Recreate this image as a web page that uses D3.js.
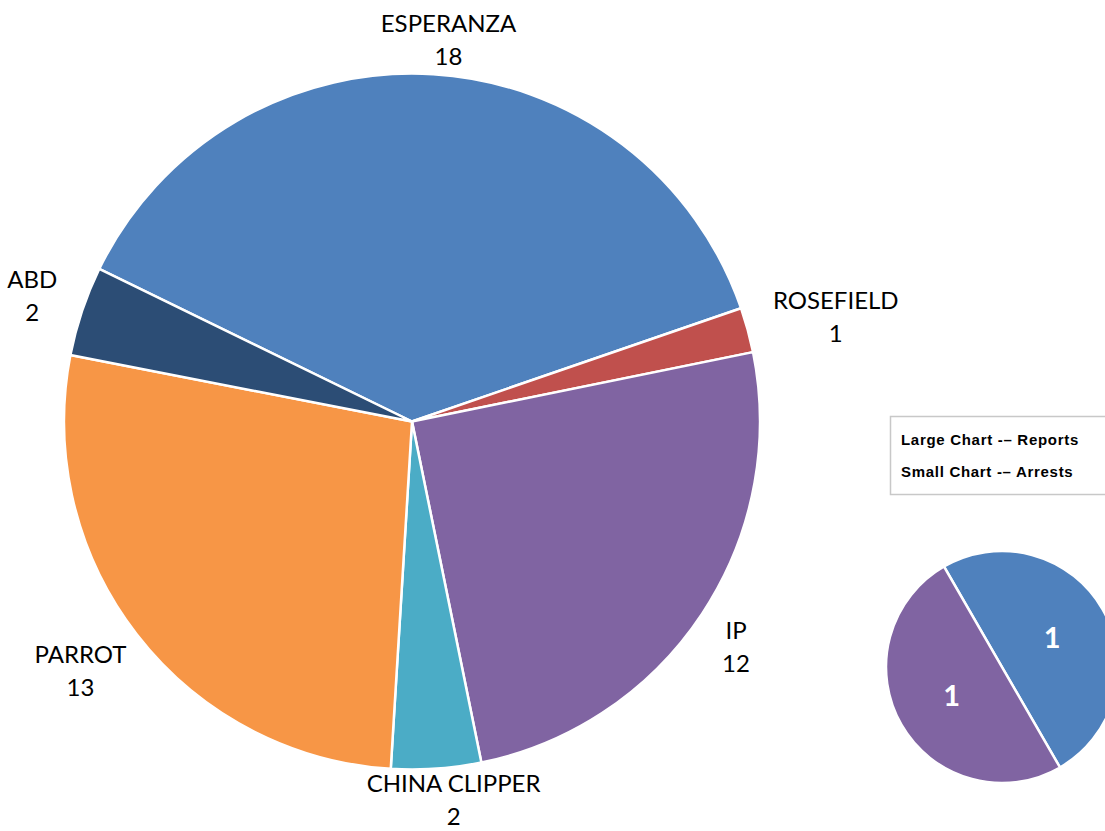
<!DOCTYPE html>
<html>
<head>
<meta charset="utf-8">
<script src="https://cdn.jsdelivr.net/npm/d3@7"></script>
<style>
  html, body { margin: 0; padding: 0; background: #fff; overflow: hidden; }
  svg { display: block; }
</style>
</head>
<body>
<svg id="chart" width="1105" height="831"></svg>
<script>
// Reports by vessel (large pie)
const reportCategories = ["ESPERANZA", "ROSEFIELD", "IP", "CHINA CLIPPER", "PARROT", "ABD"];
const reportValues = [18, 1, 12, 2, 13, 2];
const reportColors = ["#4F81BD", "#C0504D", "#8064A2", "#4BACC6", "#F79646", "#2C4D75"];

// Arrests (small pie)
const arrestCategories = ["ESPERANZA", "IP"];
const arrestValues = [1, 1];
const arrestColors = ["#4F81BD", "#8064A2"];

const legendLines = ["Large Chart -\u2013 Reports", "Small Chart -\u2013 Arrests"];

const W = 1105, H = 831;
const svg = d3.select("#chart");
const deg = Math.PI / 180;

// ---- Large pie ----
const big = { cx: 412, cy: 421.5, r: 348, start: -64 };
const bigPie = d3.pie().sort(null).value(d => d.value)
  .startAngle(big.start * deg).endAngle((big.start + 360) * deg);
const bigData = bigPie(reportCategories.map((c, i) => ({ name: c, value: reportValues[i], color: reportColors[i] })));
const bigArc = d3.arc().innerRadius(0).outerRadius(big.r);

const gBig = svg.append("g").attr("transform", `translate(${big.cx},${big.cy})`);
gBig.selectAll("path").data(bigData).join("path")
  .attr("d", bigArc)
  .attr("fill", d => d.data.color)
  .attr("stroke", "#fff")
  .attr("stroke-width", 2.5)
  .attr("stroke-linejoin", "round");

// Outside labels: the text block sits just beyond the rim along the slice's mid-angle,
// pushed a little further vertically for the diagonal positions
const labelFont = "Lato, 'Open Sans', sans-serif";
const lineGap = 33, blockH = 50, gapX = 28, gapY = 8;
const labels = gBig.selectAll("g.lbl").data(bigData).join("g").attr("class", "lbl");
labels.append("text").attr("class", "name").text(d => d.data.name);
labels.append("text").attr("class", "val").text(d => d.data.value);
labels.selectAll("text")
  .attr("text-anchor", "middle")
  .attr("font-family", labelFont)
  .attr("font-size", 24)
  .attr("fill", "#000");
labels.each(function(d) {
  const g = d3.select(this);
  const w = g.select("text.name").node().getComputedTextLength();
  const a = (d.startAngle + d.endAngle) / 2;
  const ux = Math.sin(a), uy = -Math.cos(a);
  const x = ux * (big.r + gapX) + ux * w / 2 + (1 - Math.abs(ux)) * 10;
  const diag = Math.abs(ux) * uy * (uy > 0 ? 34 : 16);
  let y = uy * (big.r + gapY) + uy * blockH / 2 + diag - 8;
  // keep the value line inside the canvas
  const maxBase = H - 6 - big.cy - lineGap;
  y = Math.min(y, maxBase);
  g.select("text.name").attr("x", x).attr("y", y);
  g.select("text.val").attr("x", x).attr("y", y + lineGap);
});

// ---- Small pie ----
const small = { cx: 1002, cy: 667, r: 116, start: -30 };
const smallPie = d3.pie().sort(null).value(d => d.value)
  .startAngle(small.start * deg).endAngle((small.start + 360) * deg);
const smallData = smallPie(arrestCategories.map((c, i) => ({ name: c, value: arrestValues[i], color: arrestColors[i] })));
const smallArc = d3.arc().innerRadius(0).outerRadius(small.r);
const smallLabelArc = d3.arc().innerRadius(small.r * 0.5).outerRadius(small.r * 0.5);

const gSmall = svg.append("g").attr("transform", `translate(${small.cx},${small.cy})`);
gSmall.selectAll("path").data(smallData).join("path")
  .attr("d", smallArc)
  .attr("fill", d => d.data.color)
  .attr("stroke", "#fff")
  .attr("stroke-width", 2.5);
gSmall.selectAll("text").data(smallData).join("text")
  .attr("transform", d => `translate(${smallLabelArc.centroid(d)})`)
  .attr("text-anchor", "middle")
  .attr("dy", "0.36em")
  .attr("font-family", labelFont)
  .attr("font-weight", "bold")
  .attr("font-size", 29)
  .attr("fill", "#fff")
  .text(d => d.data.value);

// ---- Legend box ----
const legend = svg.append("g").attr("transform", "translate(890,416)");
legend.append("rect")
  .attr("x", 0.5).attr("y", 0.5)
  .attr("width", 230).attr("height", 78)
  .attr("fill", "#fff")
  .attr("stroke", "#c8c8c8")
  .attr("stroke-width", 1.5);
legend.selectAll("text").data(legendLines).join("text")
  .attr("x", 11)
  .attr("y", (d, i) => 29 + i * 32)
  .attr("font-family", "'Liberation Sans', Arial, sans-serif")
  .attr("font-weight", "bold")
  .attr("font-size", 15)
  .attr("letter-spacing", 0.7)
  .attr("fill", "#000")
  .text(d => d);
</script>
</body>
</html>
